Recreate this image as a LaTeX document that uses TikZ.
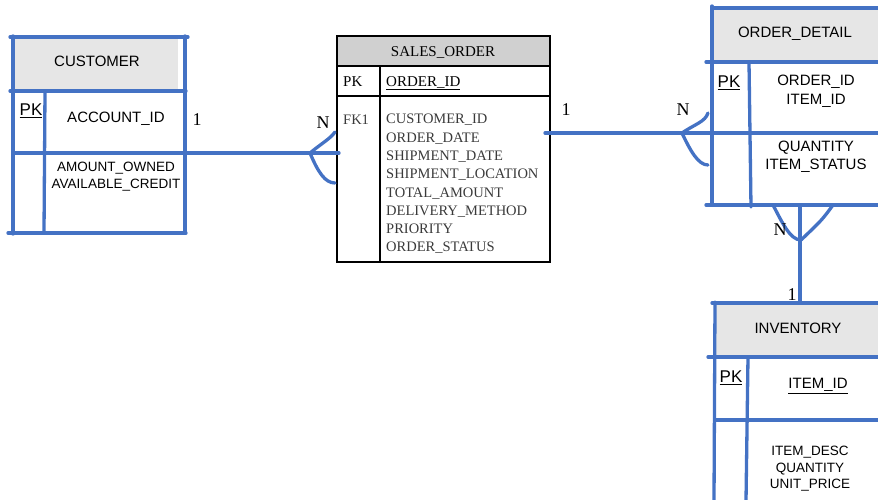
\documentclass[tikz,border=0pt]{standalone}
\usepackage{fontspec}
\setmainfont{Liberation Serif}
\setsansfont{Liberation Sans}
\definecolor{erblue}{HTML}{4472C4}
\definecolor{hdgray}{HTML}{E6E6E6}
\definecolor{sogray}{HTML}{D0D0D0}
\definecolor{attrgray}{HTML}{3A3A3A}
\begin{document}
\begin{tikzpicture}[x=1pt,y=-1pt,
  bl/.style={draw=erblue,line width=3.3pt,line cap=round},
  blk/.style={draw=black,line width=2.8pt},
  ttl/.style={font=\sffamily\fontsize{15}{18}\selectfont,inner sep=0pt},
  pk/.style={font=\sffamily\fontsize{17}{20}\selectfont,inner sep=0pt},
  at15/.style={font=\sffamily\fontsize{15}{19}\selectfont,inner sep=0pt,align=center},
  at13/.style={font=\sffamily\fontsize{13.5}{17}\selectfont,inner sep=0pt,align=center},
  sot/.style={font=\rmfamily\fontsize{15}{18}\selectfont,inner sep=0pt},
  soa/.style={font=\rmfamily\fontsize{14.5}{18.3}\selectfont,inner sep=0pt,align=left,text=attrgray},
  card/.style={font=\rmfamily\fontsize{18}{20}\selectfont,inner sep=0pt}]
\useasboundingbox (0,0) rectangle (878,499);

% ---------- CUSTOMER ----------
\fill[hdgray] (13,38) rectangle (178,91);
\draw[bl] (10,37) -- (188,37);
\draw[bl] (13,36) -- (13,234);
\draw[bl] (185,36) -- (185,233);
\draw[bl] (10,91) -- (186,91);
\draw[bl] (13,153) -- (186,153);
\draw[bl] (8,233) -- (186,233);
\draw[bl] (45,91) -- (44,233);
\node[ttl] (custT) at (97,61) {CUSTOMER};
\node[pk] (custPK) at (31,111) {\underline{PK}};
\node[at15] (custK) at (116,119) {ACCOUNT\_ID};
\node[at13] (custA) at (116,177) {AMOUNT\_OWNED\\AVAILABLE\_CREDIT};

% ---------- SALES_ORDER ----------
\fill[sogray] (337,36) rectangle (550,66);
\draw[blk] (337,36) rectangle (550,262);
\draw[blk] (337,66) -- (550,66);
\draw[blk] (337,96) -- (550,96);
\draw[blk] (380,66) -- (380,262);
\node[sot] (soT) at (443,52) {SALES\_ORDER};
\node[sot,anchor=west] (soPK) at (343,82) {PK};
\node[sot,anchor=west] (soK) at (386,83) {\underline{ORDER\_ID}};
\node[soa,anchor=west] (soFK) at (343,120) {FK1};
\node[soa,anchor=north west] (soA) at (386,114) {CUSTOMER\_ID\\ORDER\_DATE\\SHIPMENT\_DATE\\SHIPMENT\_LOCATION\\TOTAL\_AMOUNT\\DELIVERY\_METHOD\\PRIORITY\\ORDER\_STATUS};

% ---------- ORDER_DETAIL ----------
\fill[hdgray] (713,9) rectangle (878,62);
\draw[bl] (712,8) -- (880,8);
\draw[bl] (712,6) -- (712,205);
\draw[bl] (706,62) -- (880,62);
\draw[bl] (706,205) -- (880,205);
\draw[bl] (749,62) -- (751,207);
\node[ttl] (odT) at (795,34) {ORDER\_DETAIL};
\node[pk] (odPK) at (729,83) {\underline{PK}};
\node[at15] (odK) at (816,91) {ORDER\_ID\\ITEM\_ID};
\node[at15,font=\sffamily\fontsize{15}{18}\selectfont] (odA) at (816,157) {QUANTITY\\ITEM\_STATUS};

% ---------- INVENTORY ----------
\fill[hdgray] (716,304) rectangle (878,357);
\draw[bl] (712,303) -- (880,303);
\draw[bl] (715,302) -- (714,501);
\draw[bl] (708,357) -- (880,357);
\draw[bl] (715,420) -- (880,420);
\draw[bl] (748,357) -- (746,501);
\node[ttl] (invT) at (798,328) {INVENTORY};
\node[pk] (invPK) at (731,378) {\underline{PK}};
\node[at15] (invK) at (818,386) {\underline{ITEM\_ID}};
\node[at13,font=\sffamily\fontsize{13.5}{16.5}\selectfont] (invA) at (810,469) {ITEM\_DESC\\QUANTITY\\UNIT\_PRICE};

% ---------- connectors ----------
\coordinate (custR) at (186,153);
\coordinate (soL) at (339,153);
\coordinate (cf1) at (310,153);
\draw[bl] (custR) -- (soL);
\draw[bl] (cf1) .. controls (322,143) and (330,139) .. (335,132);
\draw[bl] (cf1) .. controls (318,172) and (325,183) .. (335,183);
\node[card] (c1) at (197,120) {1};
\node[card] (n1) at (323,123) {N};

\coordinate (soR) at (545,133);
\coordinate (odR) at (880,133);
\coordinate (cf2) at (682,133);
\draw[bl] (soR) -- (odR);
\draw[bl] (cf2) .. controls (695,124) and (705,122) .. (708,113);
\draw[bl] (cf2) .. controls (690,150) and (698,165) .. (708,165);
\node[card] (c2) at (566,110) {1};
\node[card] (n2) at (683,110) {N};

\coordinate (odB) at (800,205);
\coordinate (invTop) at (800,301);
\coordinate (cf3) at (801,240);
\draw[bl] (odB) -- (invTop);
\draw[bl] (773,205) .. controls (782,222) and (790,240) .. (cf3);
\draw[bl] (833,205) .. controls (822,220) .. (cf3);
\node[card] (n3) at (780,230) {N};
\node[card] (c3) at (792,295) {1};
\end{tikzpicture}
\end{document}
